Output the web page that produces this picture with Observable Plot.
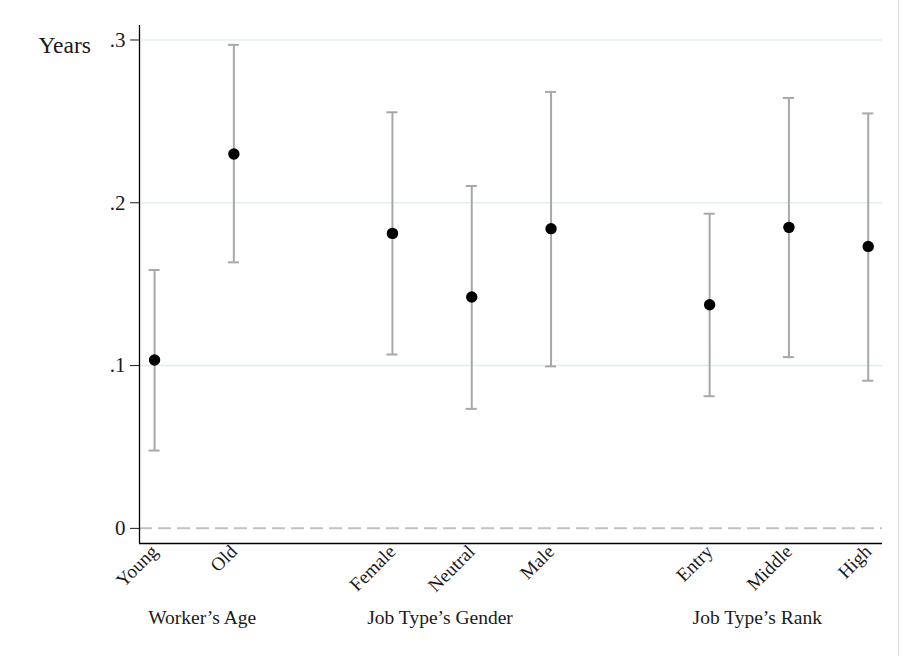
<!DOCTYPE html>
<html>
<head>
<meta charset="utf-8">
<script src="https://cdn.jsdelivr.net/npm/d3@7"></script>
<script src="https://cdn.jsdelivr.net/npm/@observablehq/plot@0.6"></script>
<style>
  html, body { margin: 0; padding: 0; background: #fff; }
  #chart { position: relative; width: 906px; height: 656px; overflow: hidden; }
  #chart svg { display: block; }
  #edge { position: absolute; left: 898px; top: 0; width: 1px; height: 656px; background: #dcdcdc; }
</style>
</head>
<body>
<div id="chart"><div id="edge"></div></div>
<script>
// Point estimates (years) with 95% confidence intervals, by worker / job-type group
const categories = ["Young", "Old", "Female", "Neutral", "Male", "Entry", "Middle", "High"];
const groupLabels = ["Worker’s Age", "Job Type’s Gender", "Job Type’s Rank"];
const groupSizes = [2, 3, 3];
const estimates = [0.1034, 0.2300, 0.1812, 0.1421, 0.1841, 0.1374, 0.1849, 0.1732];
const lowerCI   = [0.0478, 0.1634, 0.1068, 0.0734, 0.0995, 0.0812, 0.1052, 0.0907];
const upperCI   = [0.1587, 0.2970, 0.2556, 0.2103, 0.2681, 0.1933, 0.2644, 0.2549];
const yTicks = [0, 0.1, 0.2, 0.3];
const yTickLabels = ["0", ".1", ".2", ".3"];

// Slot positions along x: one empty slot between groups
const positions = [];
const groupStart = [];
let slot = 0;
groupSizes.forEach((n) => {
  groupStart.push(slot + 1);
  for (let i = 0; i < n; i++) positions.push(++slot);
  slot++;
});

const rows = categories.map((c, i) => ({
  category: c,
  pos: positions[i],
  est: estimates[i],
  lo: lowerCI[i],
  hi: upperCI[i]
}));
const groups = groupLabels.map((g, i) => ({label: g, x: groupStart[i] + 0.6}));

const xDomain = [0.81, 10.18];
const yDomain = [-0.0093, 0.3089];
const capHalf = 0.07;
const barColor = "#a8a8a8";

const chart = Plot.plot({
  width: 906,
  height: 656,
  marginLeft: 139,
  marginRight: 24,
  marginTop: 25,
  marginBottom: 113,
  x: {type: "linear", domain: xDomain},
  y: {domain: yDomain},
  style: {fontFamily: "'Liberation Serif', serif", fontSize: "19px", color: "#1a1a1a", background: "white"},
  marks: [
    // horizontal grid
    Plot.ruleY(yTicks.filter((v) => v > 0), {stroke: "#e4eef0", strokeWidth: 1.5}),
    // zero reference line
    Plot.ruleY([0], {stroke: "#c2c2c2", strokeWidth: 2, strokeDasharray: "13,6"}),
    // confidence intervals with end caps
    Plot.ruleX(rows, {x: "pos", y1: "lo", y2: "hi", stroke: barColor, strokeWidth: 2}),
    Plot.ruleY(rows, {y: "lo", x1: (d) => d.pos - capHalf, x2: (d) => d.pos + capHalf, stroke: barColor, strokeWidth: 2}),
    Plot.ruleY(rows, {y: "hi", x1: (d) => d.pos - capHalf, x2: (d) => d.pos + capHalf, stroke: barColor, strokeWidth: 2}),
    // point estimates
    Plot.dot(rows, {x: "pos", y: "est", r: 5.7, fill: "black", stroke: "none"}),
    // axes
    Plot.axisY({
      ticks: yTicks,
      tickFormat: (d) => yTickLabels[yTicks.indexOf(d)],
      tickSize: 9,
      tickPadding: 5,
      fontSize: 21,
      label: null
    }),
    Plot.axisX({
      ticks: positions,
      tickFormat: (d) => categories[positions.indexOf(d)],
      tickRotate: -45,
      tickSize: 0,
      tickPadding: 5,
      fontSize: 19,
      label: null
    }),
    Plot.ruleX([xDomain[0]], {stroke: "black", strokeWidth: 1.3}),
    Plot.ruleY([yDomain[0]], {stroke: "black", strokeWidth: 1.3}),
    // y-axis title
    Plot.text(["Years"], {frameAnchor: "top-left", dx: -101, dy: 11, textAnchor: "start", fontSize: 23.5, fill: "#1a1a1a"}),
    // group titles below the category labels
    Plot.text(groups, {x: "x", text: "label", frameAnchor: "bottom", dy: 80, fontSize: 19.5, fill: "#1a1a1a"})
  ]
});

document.getElementById("chart").prepend(chart);
</script>
</body>
</html>
